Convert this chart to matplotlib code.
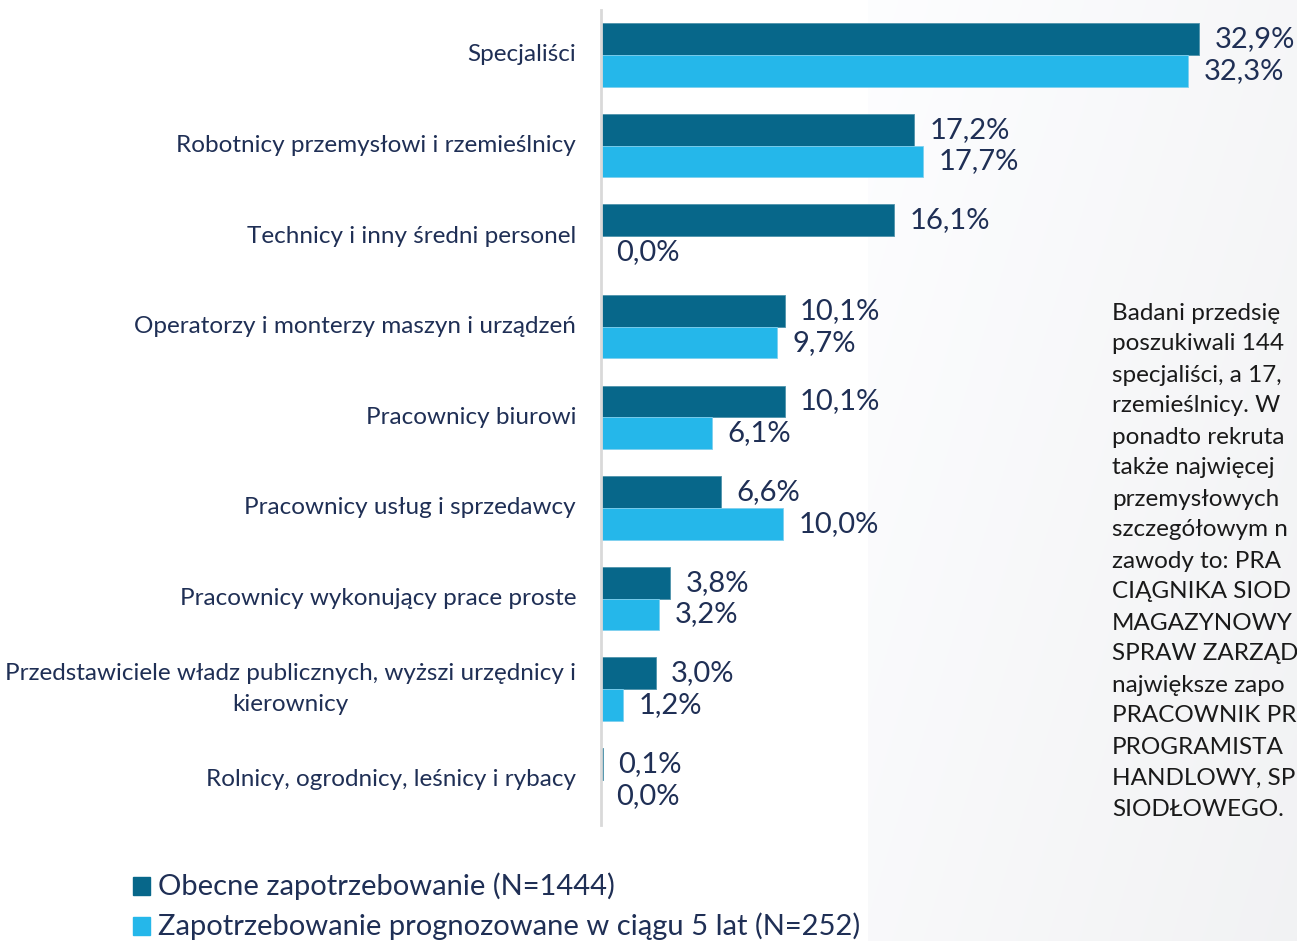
import matplotlib.pyplot as plt
from matplotlib.patches import Rectangle
import numpy as np

# Data
categories = ['Specjaliści',
              'Robotnicy przemysłowi i rzemieślnicy',
              'Technicy i inny średni personel',
              'Operatorzy i monterzy maszyn i urządzeń',
              'Pracownicy biurowi',
              'Pracownicy usług i sprzedawcy',
              'Pracownicy wykonujący prace proste',
              'Przedstawiciele władz publicznych, wyższi urzędnicy i\nkierownicy',
              'Rolnicy, ogrodnicy, leśnicy i rybacy']
obecne = [32.9, 17.2, 16.1, 10.1, 10.1, 6.6, 3.8, 3.0, 0.1]
prognoza = [32.3, 17.7, 0.0, 9.7, 6.1, 10.0, 3.2, 1.2, 0.0]
series_names = ['Obecne zapotrzebowanie (N=1444)',
                'Zapotrzebowanie prognozowane w ciągu 5 lat (N=252)']
# side note, only the part visible in the picture
side_lines = ['Badani przedsię', 'poszukiwali 144', 'specjaliści, a 17,',
              'rzemieślnicy. W', 'ponadto rekruta', 'także najwięcej',
              'przemysłowych', 'szczegółowym n', 'zawody to: PRA',
              'CIĄGNIKA SIOD', 'MAGAZYNOWY', 'SPRAW ZARZĄD',
              'największe zapo', 'PRACOWNIK PR', 'PROGRAMISTA',
              'HANDLOWY, SP', 'SIODŁOWEGO.']

dark = '#07678a'
light = '#25b7ea'
navy = '#1f2f55'
plt.rcParams['font.family'] = ['Lato', 'DejaVu Sans']

W, H = 1297, 941
fig = plt.figure(figsize=(W/100, H/100), dpi=100)
fig.patch.set_facecolor('white')

# grey gradient panel on the right
bg = fig.add_axes([868/W, 0, 1-868/W, 1], zorder=0)
gx, gy = np.meshgrid(np.linspace(0, 1, 200), np.linspace(0, 1, 200))
g = 0.992 - 0.045*(0.6*gx + 0.4*gy)
bg.imshow(np.dstack([g, g+0.002, g+0.008]).clip(0, 1), aspect='auto',
          extent=[0, 1, 1, 0])
bg.axis('off')

# main bar axes
top_px, bot_px = 10, 825
sc = 18.18  # px per percent
ax = fig.add_axes([601/W, 1-bot_px/H, 640/W, (bot_px-top_px)/H], zorder=1)
ax.set_facecolor('none')
y = np.arange(len(categories))
h = 0.35
ax.barh(y-h/2, obecne, height=h, color=dark, edgecolor='#4f93ab', linewidth=0.6)
ax.barh(y+h/2, prognoza, height=h, color=light, edgecolor='#7fd0ef', linewidth=0.6)
ax.set_xlim(0, 640/sc)
ax.set_ylim(8.5, 8.5 - (bot_px-top_px)/90.6)

for i in range(len(categories)):
    ax.text(obecne[i]+0.85, y[i]-h/2, ('%.1f%%' % obecne[i]).replace('.', ','),
            va='center', ha='left', fontsize=21, color=navy, clip_on=False)
    ax.text(prognoza[i]+0.85, y[i]+h/2, ('%.1f%%' % prognoza[i]).replace('.', ','),
            va='center', ha='left', fontsize=21, color=navy, clip_on=False)
    ax.text(-25/sc, y[i], categories[i], ha='right', va='center',
            multialignment='center', fontsize=17.5, color=navy,
            linespacing=1.6, clip_on=False)

for s in ['top', 'right', 'bottom']:
    ax.spines[s].set_visible(False)
ax.spines['left'].set_color('#d9d9d9')
ax.spines['left'].set_linewidth(2)
ax.set_xticks([])
ax.set_yticks([])

# legend
for k, (name, col) in enumerate(zip(series_names, [dark, light])):
    yc = 886 + 40*k
    fig.patches.append(Rectangle((133/W, 1-(yc+9)/H), 17/W, 18/H,
                                 transform=fig.transFigure, color=col))
    fig.text(158/W, 1-yc/H, name, ha='left', va='center', fontsize=21, color=navy)

# side text
for k, line in enumerate(side_lines):
    fig.text(1112/W, 1-(313+31*k)/H, line, ha='left', va='center',
             fontsize=17.5, color='#1a1a1a', zorder=5)

plt.savefig('out.png', dpi=100)
